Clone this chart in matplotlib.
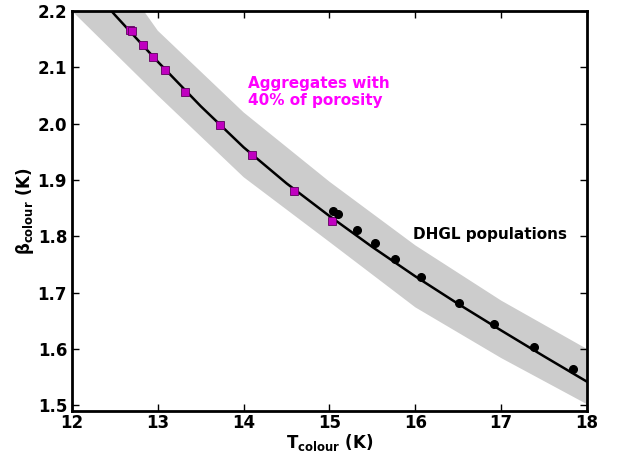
import numpy as np
import matplotlib
matplotlib.use('Agg')
import matplotlib.pyplot as plt

# datos
band_t = [12, 13, 14, 15, 16, 17, 18]
band_hi = [2.38, 2.165, 2.02, 1.897, 1.784, 1.686, 1.600]
band_lo = [2.20, 2.050, 1.905, 1.790, 1.674, 1.584, 1.502]

model_t = [12.0, 12.5, 13.0, 13.5, 14.0, 14.5, 15.0, 15.5, 16.0, 16.5, 17.0, 17.5, 18.0]
model_beta = [2.28, 2.193, 2.110, 2.031, 1.958, 1.894, 1.836, 1.781, 1.729, 1.680, 1.633, 1.587, 1.542]

aggr_t = [12.676, 12.703, 12.827, 12.940, 13.083, 13.320, 13.721, 14.101, 14.590, 15.026]
aggr_beta = [2.167, 2.164, 2.139, 2.118, 2.095, 2.056, 1.997, 1.945, 1.881, 1.827]

dhgl_t = [15.037, 15.103, 15.317, 15.530, 15.763, 16.070, 16.512, 16.917, 17.383, 17.841]
dhgl_beta = [1.845, 1.840, 1.811, 1.788, 1.760, 1.728, 1.682, 1.644, 1.603, 1.564]

plt.rcParams['font.weight'] = 'bold'
plt.rcParams['mathtext.default'] = 'bf'

fig = plt.figure(figsize=(6.19, 4.57), dpi=100)
ax = fig.add_axes([0.1163, 0.1007, 0.832, 0.8752])

ax.fill_between(band_t, band_lo, band_hi, color='0.8', linewidth=0)
ax.plot(model_t, model_beta, color='black', linewidth=1.8)
ax.plot(aggr_t, aggr_beta, 's', color='#c000c0', markeredgecolor='#600060',
        markersize=6, markeredgewidth=0.6)
ax.plot(dhgl_t, dhgl_beta, 'o', color='black', markersize=5.5)

ax.text(14.05, 2.056, 'Aggregates with\n40% of porosity', color='#ff00ff',
        fontsize=11, fontweight='bold', linespacing=1.15, va='center')
ax.text(15.97, 1.804, 'DHGL populations', color='black', fontsize=11,
        fontweight='bold', va='center')

ax.set_xlim(12, 18)
ax.set_ylim(1.49, 2.2)
ax.set_xticks([12, 13, 14, 15, 16, 17, 18])
ax.set_yticks([1.5, 1.6, 1.7, 1.8, 1.9, 2.0, 2.1, 2.2])
ax.tick_params(direction='in', top=True, right=True, length=5, width=1,
               labelsize=12)
ax.tick_params(axis='x', pad=2)
for lab in ax.get_xticklabels() + ax.get_yticklabels():
    lab.set_fontweight('bold')
for s in ax.spines.values():
    s.set_linewidth(2)

ax.set_xlabel(r'$T_{colour}$ (K)', fontsize=12, fontweight='bold', labelpad=0)
ax.set_ylabel(r'$\beta_{colour}$ (K)', fontsize=12, fontweight='bold', labelpad=1)

fig.savefig('out.png', dpi=100)
